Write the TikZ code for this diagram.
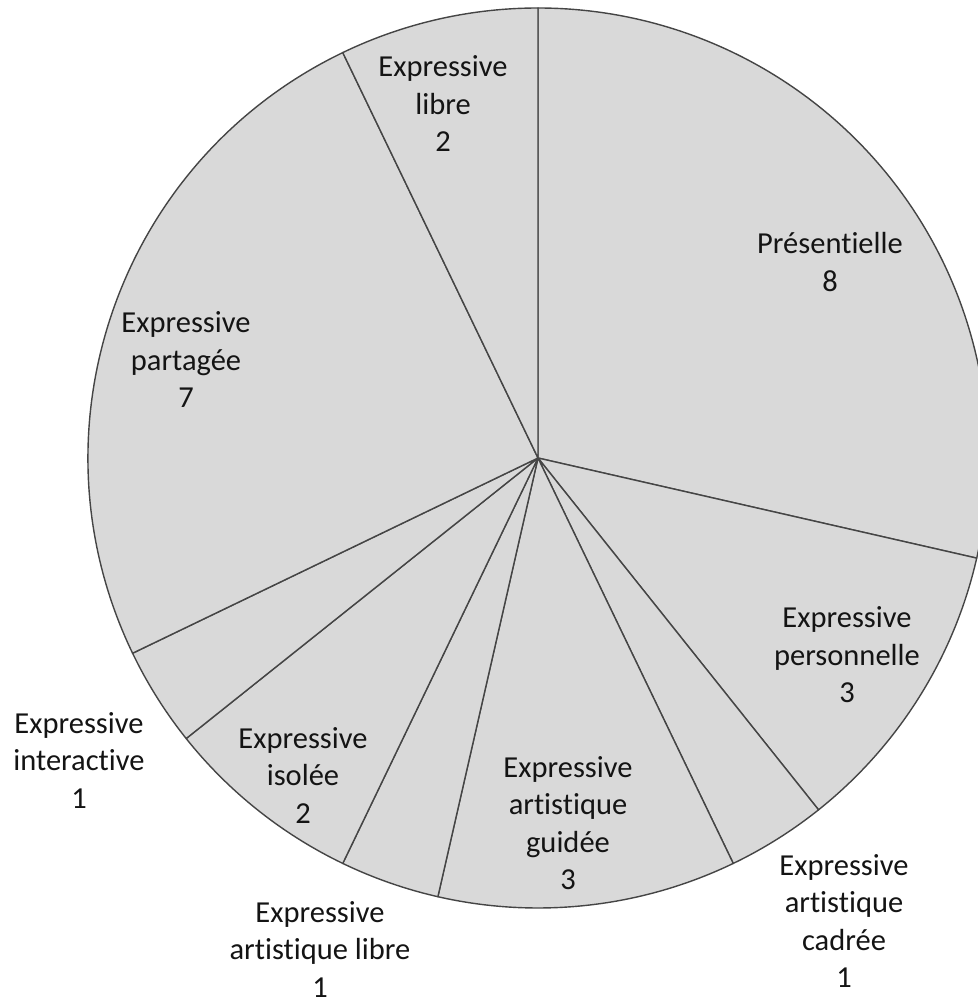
\documentclass[tikz,border=0pt]{standalone}
\usepackage{fontspec}
\setmainfont{Carlito}[Ligatures={NoCommon}]
\definecolor{slicefill}{HTML}{D9D9D9}
\definecolor{sliceline}{HTML}{454545}
\definecolor{labeltext}{HTML}{141414}
\begin{document}
\begin{tikzpicture}[x=1pt,y=1pt,
  slice/.style={fill=slicefill,draw=sliceline,line width=1.4pt,line join=round},
  lbl/.style={align=center,text=labeltext,inner sep=0pt,font=\fontsize{30.5}{37.5}\selectfont}]
\useasboundingbox (0,-1000) rectangle (977,0);
\coordinate (c) at (538,-458);
\def\R{450}
\foreach \a/\b in {90/-12.857, -12.857/-51.429, -51.429/-64.286, -64.286/-102.857,
  -102.857/-115.714, -115.714/-141.429, -141.429/-154.286, -154.286/-244.286, -244.286/-270}{
  \draw[slice] (c) -- ++(\a:\R) arc[start angle=\a,end angle=\b,radius=\R] -- cycle;
}
\node[lbl] (libre) at (443,-104) {Expressive\\libre\\2};
\node[lbl] (pres) at (830,-262) {Présentielle\\8};
\node[lbl] (part) at (186,-360) {Expressive\\partagée\\7};
\node[lbl] (perso) at (847,-655) {Expressive\\personnelle\\3};
\node[lbl] (inter) at (79,-760) {Expressive\\interactive\\1};
\node[lbl] (iso) at (303,-775) {Expressive\\isolée\\2};
\node[lbl] (guid) at (568,-823) {Expressive\\artistique\\guidée\\3};
\node[lbl] (alib) at (320,-949) {Expressive\\artistique libre\\1};
\node[lbl] (cad) at (844,-921) {Expressive\\artistique\\cadrée\\1};
\end{tikzpicture}
\end{document}
